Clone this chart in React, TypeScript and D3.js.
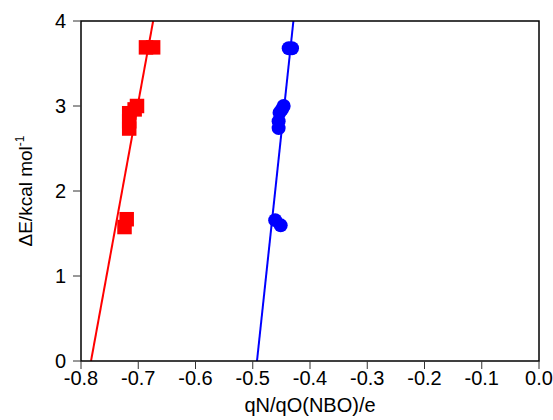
import React from "react";
import * as d3 from "d3";

const xTicks = [-0.8, -0.7, -0.6, -0.5, -0.4, -0.3, -0.2, -0.1, 0.0];
const yTicks = [0, 1, 2, 3, 4];

const redX = [-0.6865, -0.674, -0.7022, -0.7063, -0.7158, -0.7158, -0.7158, -0.7202, -0.724];
const redY = [3.69, 3.69, 3.0, 2.96, 2.915, 2.82, 2.735, 1.668, 1.576];

const blueX = [-0.4372, -0.4314, -0.446, -0.449, -0.4532, -0.4548, -0.4548, -0.4608, -0.4512];
const blueY = [3.68, 3.68, 3.0, 2.96, 2.92, 2.82, 2.74, 1.657, 1.596];

const redFitX = [-0.7825, -0.674];
const redFitY = [0, 4];
const blueFitX = [-0.4926, -0.429];
const blueFitY = [0, 4];

export default function App() {
  const W = 553, H = 420;
  const L = 81, R = 539, T = 21, B = 361;
  const x = d3.scaleLinear().domain([-0.8, 0]).range([L, R]);
  const y = d3.scaleLinear().domain([0, 4]).range([B, T]);
  const line = d3.line<[number, number]>().x(d => x(d[0])).y(d => y(d[1]));
  const redFit = redFitX.map((v, i) => [v, redFitY[i]] as [number, number]);
  const blueFit = blueFitX.map((v, i) => [v, blueFitY[i]] as [number, number]);
  const font = "'Liberation Sans', Arial, Helvetica, sans-serif";
  const fs = 20;
  const sq = 14.5;
  return (
    <svg width={W} height={H} style={{ position: "absolute", left: 0, top: 0, background: "#fff" }} fontFamily={font}>
      <defs>
        <clipPath id="plotclip">
          <rect x={L} y={T} width={R - L} height={B - T} />
        </clipPath>
      </defs>
      <rect x={0} y={0} width={W} height={H} fill="#fff" />
      <g clipPath="url(#plotclip)">
        <path d={line(redFit) || ""} stroke="#ff0000" strokeWidth={2} fill="none" />
        <path d={line(blueFit) || ""} stroke="#0000ff" strokeWidth={2} fill="none" />
      </g>
      {redX.map((v, i) => (
        <rect key={"r" + i} x={x(v) - sq / 2} y={y(redY[i]) - sq / 2} width={sq} height={sq} fill="#ff0000" />
      ))}
      {blueX.map((v, i) => (
        <circle key={"b" + i} cx={x(v)} cy={y(blueY[i])} r={7} fill="#0000ff" />
      ))}
      <rect x={L} y={T} width={R - L} height={B - T} fill="none" stroke="#000" strokeWidth={1.5} />
      {xTicks.map(t => (
        <g key={"xt" + t}>
          <line x1={x(t)} x2={x(t)} y1={B} y2={B + 8} stroke="#333" strokeWidth={1} />
          <text x={x(t)} y={385} fontSize={fs} textAnchor="middle" fill="#000">{t.toFixed(1)}</text>
        </g>
      ))}
      {yTicks.map(t => (
        <g key={"yt" + t}>
          <line x1={L - 8} x2={L} y1={y(t)} y2={y(t)} stroke="#333" strokeWidth={1} />
          <text x={66} y={y(t)} dy="0.36em" fontSize={fs} textAnchor="end" fill="#000">{t}</text>
        </g>
      ))}
      <text x={(L + R) / 2} y={412} fontSize={fs} textAnchor="middle" fill="#000">qN/qO(NBO)/e</text>
      <text transform={`translate(32,${(T + B) / 2}) rotate(-90)`} fontSize={19} textAnchor="middle" fill="#000">
        ΔE/kcal mol<tspan dy={-8} fontSize={12}>-1</tspan>
      </text>
    </svg>
  );
}
